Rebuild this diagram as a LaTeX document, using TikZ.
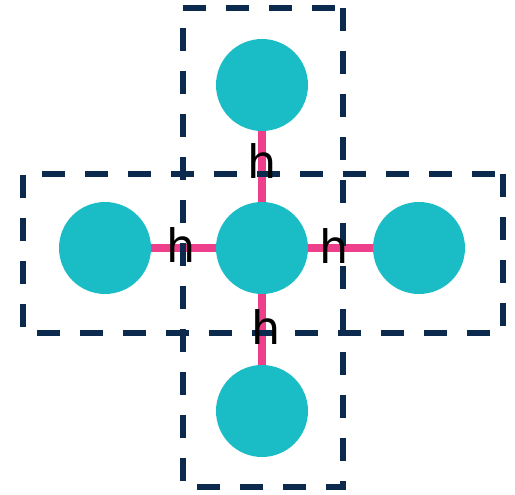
\documentclass[tikz,border=0pt]{standalone}
\usepackage{fontspec}
\setmainfont{DejaVu Sans}
\definecolor{tealfill}{HTML}{1ABDC5}
\definecolor{bondpink}{HTML}{EE3F8B}
\definecolor{navy}{HTML}{0C2A4E}
\begin{document}
\begin{tikzpicture}[x=1pt,y=-1pt,
  site/.style={circle,fill=tealfill,minimum size=92pt,inner sep=0pt},
  bond/.style={line width=8pt,bondpink},
  cell/.style={line width=5.7pt,navy,dash pattern=on 23pt off 20pt},
  hop/.style={font=\fontsize{46}{46}\selectfont,inner sep=0pt,text=black}]
\useasboundingbox (0,0) rectangle (515,495);
% lattice sites
\coordinate (pc) at (262,248);
\coordinate (pt) at (262,85);
\coordinate (pb) at (262,411);
\coordinate (pl) at (105,248);
\coordinate (pr) at (419,248);
% hopping bonds from the centre site
\draw[bond] (pc) -- (pt);
\draw[bond] (pc) -- (pb);
\draw[bond] (pc) -- (pl);
\draw[bond] (pc) -- (pr);
\node[site] (c) at (pc) {};
\node[site] (t) at (pt) {};
\node[site] (b) at (pb) {};
\node[site] (l) at (pl) {};
\node[site] (r) at (pr) {};
% unit cells
\coordinate (v1) at (343,8);
\coordinate (v2) at (183,487);
\coordinate (h1) at (503,174);
\coordinate (h2) at (23,333);
\draw[cell] (v1) rectangle (v2);
\draw[cell] (h1) rectangle (h2);
% hopping labels
\node[hop] (ht) at (262.5,161.5) {h};
\node[hop] (hb) at (266,327) {h};
\node[hop] (hl) at (181,245.5) {h};
\node[hop] (hr) at (334,246) {h};
\end{tikzpicture}
\end{document}
